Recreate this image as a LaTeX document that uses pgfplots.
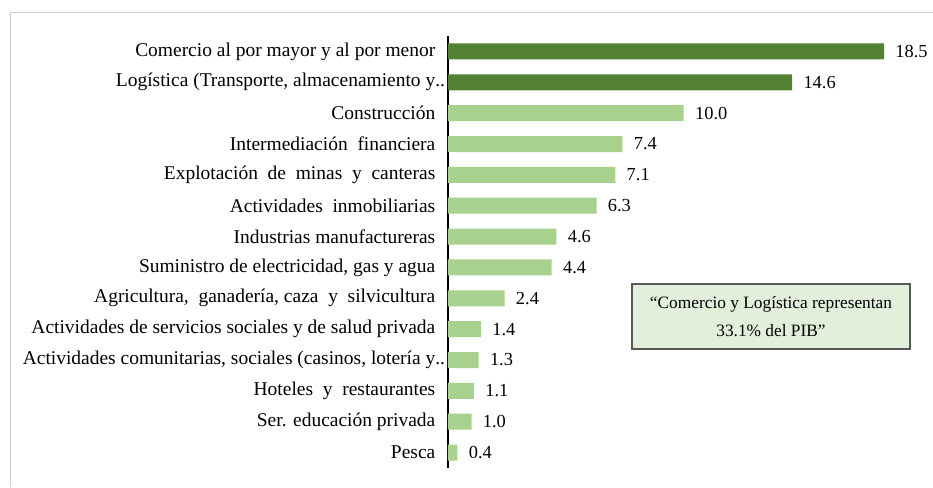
\documentclass[border=0pt]{standalone}
\usepackage{pgfplots}
\pgfplotsset{compat=1.18}
\usepackage{fontspec}
\setmainfont{Liberation Serif}
\definecolor{darkg}{RGB}{84,130,53}
\definecolor{lightg}{RGB}{169,209,142}
\definecolor{boxfill}{RGB}{226,239,218}
\newcommand{\s}{\hspace{0.5em}}
\begin{document}
\begin{tikzpicture}[x=0.75pt,y=0.75pt]
\path[use as bounding box] (0,0) rectangle (933,487);
\draw[black!20] (10,0) -- (10,475) -- (933,475);
\begin{axis}[
  at={(336pt,14.25pt)}, anchor=south west,
  scale only axis, width=353.6pt, height=324pt,
  xmin=0, xmax=20, ymin=-0.5, ymax=13.5,
  xbar, bar width=12pt,
  axis lines*=left,
  x axis line style={draw=none},
  y axis line style={black, line width=0.8pt},
  xtick=\empty,
  ytick={0,...,13},
  major tick length=0pt,
  yticklabels={{Pesca},{Ser. educación privada},{Hoteles\s y\s restaurantes},{Actividades comunitarias, sociales (casinos, lotería y\rlap{..}},{Actividades de servicios sociales y de salud privada},{Agricultura,\s ganadería, caza\s y\s silvicultura},{Suministro de electricidad, gas y agua},{Industrias manufactureras},{Actividades\s inmobiliarias},{Explotación\s de\s minas\s y\s canteras},{Intermediación\s financiera},{Construcción},{Logística (Transporte, almacenamiento y\rlap{..}},{Comercio al por mayor y al por menor}},
  yticklabel style={font=\fontsize{14.6}{17}\selectfont, xshift=-6pt},
  nodes near coords,
  nodes near coords style={font=\fontsize{13.8}{16}\selectfont, anchor=west, xshift=5pt, text=black, /pgf/number format/.cd, fixed, fixed zerofill, precision=1, assume math mode=true},
  clip=false,
]
\addplot[fill=lightg, draw=none, bar shift=0pt] coordinates {
(0.4,0) (1.0,1) (1.1,2) (1.3,3) (1.4,4) (2.4,5) (4.4,6) (4.6,7) (6.3,8) (7.1,9) (7.4,10) (10.0,11)};
\addplot[fill=darkg, draw=none, bar shift=0pt] coordinates {
(14.6,12) (18.5,13)};
\end{axis}
\node[draw=black!65, line width=0.8pt, fill=boxfill, minimum width=208.5pt, minimum height=48.75pt, align=center, font=\fontsize{13}{21}\selectfont] at (771,170.5) {“Comercio y Logística representan\\33.1\% del PIB”};
\end{tikzpicture}
\end{document}
